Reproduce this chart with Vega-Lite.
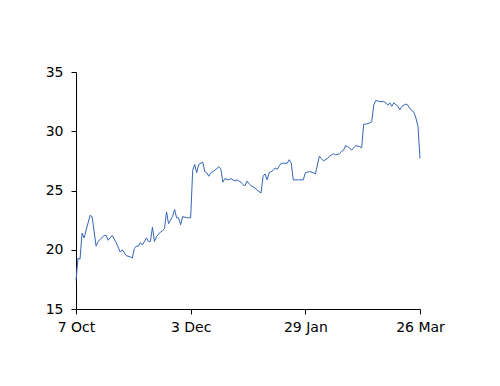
{
  "$schema": "https://vega.github.io/schema/vega-lite/v6.json",
  "width": 344,
  "height": 237,
  "autosize": {"type": "none"},
  "padding": {"left": 76, "top": 72, "right": 80, "bottom": 77},
  "background": "white",
  "config": {"view": {"stroke": null}},
  "data": {"values": [
    {"d": "2019-10-07", "v": 17.4},
    {"d": "2019-10-08", "v": 19.3},
    {"d": "2019-10-09", "v": 19.2},
    {"d": "2019-10-10", "v": 21.4},
    {"d": "2019-10-11", "v": 21.0},
    {"d": "2019-10-14", "v": 22.9},
    {"d": "2019-10-15", "v": 22.8},
    {"d": "2019-10-17", "v": 20.3},
    {"d": "2019-10-18", "v": 20.7},
    {"d": "2019-10-21", "v": 21.2},
    {"d": "2019-10-22", "v": 21.2},
    {"d": "2019-10-23", "v": 20.8},
    {"d": "2019-10-25", "v": 21.2},
    {"d": "2019-10-27", "v": 20.6},
    {"d": "2019-10-29", "v": 19.8},
    {"d": "2019-10-30", "v": 20.0},
    {"d": "2019-11-01", "v": 19.5},
    {"d": "2019-11-03", "v": 19.4},
    {"d": "2019-11-04", "v": 19.3},
    {"d": "2019-11-05", "v": 20.1},
    {"d": "2019-11-06", "v": 20.3},
    {"d": "2019-11-07", "v": 20.3},
    {"d": "2019-11-08", "v": 20.6},
    {"d": "2019-11-09", "v": 20.4},
    {"d": "2019-11-11", "v": 21.0},
    {"d": "2019-11-12", "v": 20.7},
    {"d": "2019-11-13", "v": 20.7},
    {"d": "2019-11-14", "v": 21.9},
    {"d": "2019-11-15", "v": 20.7},
    {"d": "2019-11-16", "v": 21.1},
    {"d": "2019-11-18", "v": 21.5},
    {"d": "2019-11-19", "v": 21.6},
    {"d": "2019-11-20", "v": 21.8},
    {"d": "2019-11-21", "v": 23.2},
    {"d": "2019-11-22", "v": 22.2},
    {"d": "2019-11-24", "v": 22.8},
    {"d": "2019-11-25", "v": 23.4},
    {"d": "2019-11-26", "v": 22.7},
    {"d": "2019-11-27", "v": 22.7},
    {"d": "2019-11-28", "v": 22.1},
    {"d": "2019-11-29", "v": 22.8},
    {"d": "2019-12-01", "v": 22.7},
    {"d": "2019-12-02", "v": 22.7},
    {"d": "2019-12-03", "v": 22.7},
    {"d": "2019-12-04", "v": 26.7},
    {"d": "2019-12-05", "v": 27.2},
    {"d": "2019-12-06", "v": 26.5},
    {"d": "2019-12-07", "v": 27.2},
    {"d": "2019-12-09", "v": 27.4},
    {"d": "2019-12-10", "v": 26.6},
    {"d": "2019-12-11", "v": 26.5},
    {"d": "2019-12-12", "v": 26.2},
    {"d": "2019-12-13", "v": 26.5},
    {"d": "2019-12-15", "v": 26.7},
    {"d": "2019-12-17", "v": 27.0},
    {"d": "2019-12-18", "v": 26.8},
    {"d": "2019-12-19", "v": 25.7},
    {"d": "2019-12-20", "v": 26.0},
    {"d": "2019-12-22", "v": 25.9},
    {"d": "2019-12-23", "v": 26.0},
    {"d": "2019-12-25", "v": 25.8},
    {"d": "2019-12-26", "v": 25.9},
    {"d": "2019-12-28", "v": 25.7},
    {"d": "2019-12-29", "v": 25.5},
    {"d": "2019-12-30", "v": 25.4},
    {"d": "2019-12-31", "v": 25.8},
    {"d": "2020-01-01", "v": 25.6},
    {"d": "2020-01-02", "v": 25.4},
    {"d": "2020-01-04", "v": 25.2},
    {"d": "2020-01-06", "v": 24.9},
    {"d": "2020-01-07", "v": 24.8},
    {"d": "2020-01-08", "v": 26.2},
    {"d": "2020-01-09", "v": 26.4},
    {"d": "2020-01-10", "v": 25.9},
    {"d": "2020-01-11", "v": 26.5},
    {"d": "2020-01-13", "v": 26.7},
    {"d": "2020-01-14", "v": 26.9},
    {"d": "2020-01-15", "v": 26.8},
    {"d": "2020-01-17", "v": 27.3},
    {"d": "2020-01-18", "v": 27.3},
    {"d": "2020-01-20", "v": 27.3},
    {"d": "2020-01-21", "v": 27.6},
    {"d": "2020-01-22", "v": 27.3},
    {"d": "2020-01-23", "v": 25.9},
    {"d": "2020-01-25", "v": 25.9},
    {"d": "2020-01-26", "v": 25.9},
    {"d": "2020-01-28", "v": 25.9},
    {"d": "2020-01-29", "v": 26.5},
    {"d": "2020-01-31", "v": 26.6},
    {"d": "2020-02-02", "v": 26.5},
    {"d": "2020-02-03", "v": 26.4},
    {"d": "2020-02-05", "v": 27.9},
    {"d": "2020-02-06", "v": 27.7},
    {"d": "2020-02-07", "v": 27.5},
    {"d": "2020-02-09", "v": 27.7},
    {"d": "2020-02-10", "v": 27.9},
    {"d": "2020-02-11", "v": 28.0},
    {"d": "2020-02-12", "v": 28.1},
    {"d": "2020-02-13", "v": 28.0},
    {"d": "2020-02-15", "v": 28.1},
    {"d": "2020-02-16", "v": 28.3},
    {"d": "2020-02-17", "v": 28.4},
    {"d": "2020-02-18", "v": 28.8},
    {"d": "2020-02-19", "v": 28.7},
    {"d": "2020-02-20", "v": 28.6},
    {"d": "2020-02-21", "v": 28.4},
    {"d": "2020-02-22", "v": 28.6},
    {"d": "2020-02-23", "v": 28.8},
    {"d": "2020-02-25", "v": 28.7},
    {"d": "2020-02-26", "v": 28.6},
    {"d": "2020-02-27", "v": 30.6},
    {"d": "2020-02-28", "v": 30.6},
    {"d": "2020-03-01", "v": 30.7},
    {"d": "2020-03-02", "v": 30.8},
    {"d": "2020-03-03", "v": 32.2},
    {"d": "2020-03-04", "v": 32.6},
    {"d": "2020-03-06", "v": 32.5},
    {"d": "2020-03-08", "v": 32.5},
    {"d": "2020-03-09", "v": 32.4},
    {"d": "2020-03-10", "v": 32.2},
    {"d": "2020-03-11", "v": 32.4},
    {"d": "2020-03-12", "v": 32.1},
    {"d": "2020-03-13", "v": 32.4},
    {"d": "2020-03-15", "v": 32.1},
    {"d": "2020-03-16", "v": 31.8},
    {"d": "2020-03-17", "v": 32.1},
    {"d": "2020-03-19", "v": 32.3},
    {"d": "2020-03-20", "v": 32.2},
    {"d": "2020-03-21", "v": 31.9},
    {"d": "2020-03-23", "v": 31.6},
    {"d": "2020-03-24", "v": 31.1},
    {"d": "2020-03-25", "v": 30.4},
    {"d": "2020-03-26", "v": 27.7}
  ]},
  "mark": {"type": "line", "color": "#3465b8", "strokeWidth": 1},
  "encoding": {
    "x": {
      "field": "d",
      "type": "temporal",
      "scale": {"type": "utc", "nice": false},
      "axis": {
        "title": null,
        "grid": false,
        "values": [
          {"year": 2019, "month": 10, "date": 7, "utc": true},
          {"year": 2019, "month": 12, "date": 3, "utc": true},
          {"year": 2020, "month": 1, "date": 29, "utc": true},
          {"year": 2020, "month": 3, "date": 26, "utc": true}
        ],
        "format": "%-d %b",
        "domainColor": "black",
        "tickColor": "black",
        "tickSize": 5,
        "labelColor": "black",
        "labelFont": "DejaVu Sans",
        "labelFontSize": 14,
        "labelPadding": 6,
        "labelFlush": false
      }
    },
    "y": {
      "field": "v",
      "type": "quantitative",
      "scale": {"domain": [15, 35], "nice": false, "zero": false},
      "axis": {
        "title": null,
        "grid": false,
        "values": [15, 20, 25, 30, 35],
        "domainColor": "black",
        "tickColor": "black",
        "tickSize": 5,
        "labelColor": "black",
        "labelFont": "DejaVu Sans",
        "labelFontSize": 14,
        "labelPadding": 8
      }
    }
  }
}
